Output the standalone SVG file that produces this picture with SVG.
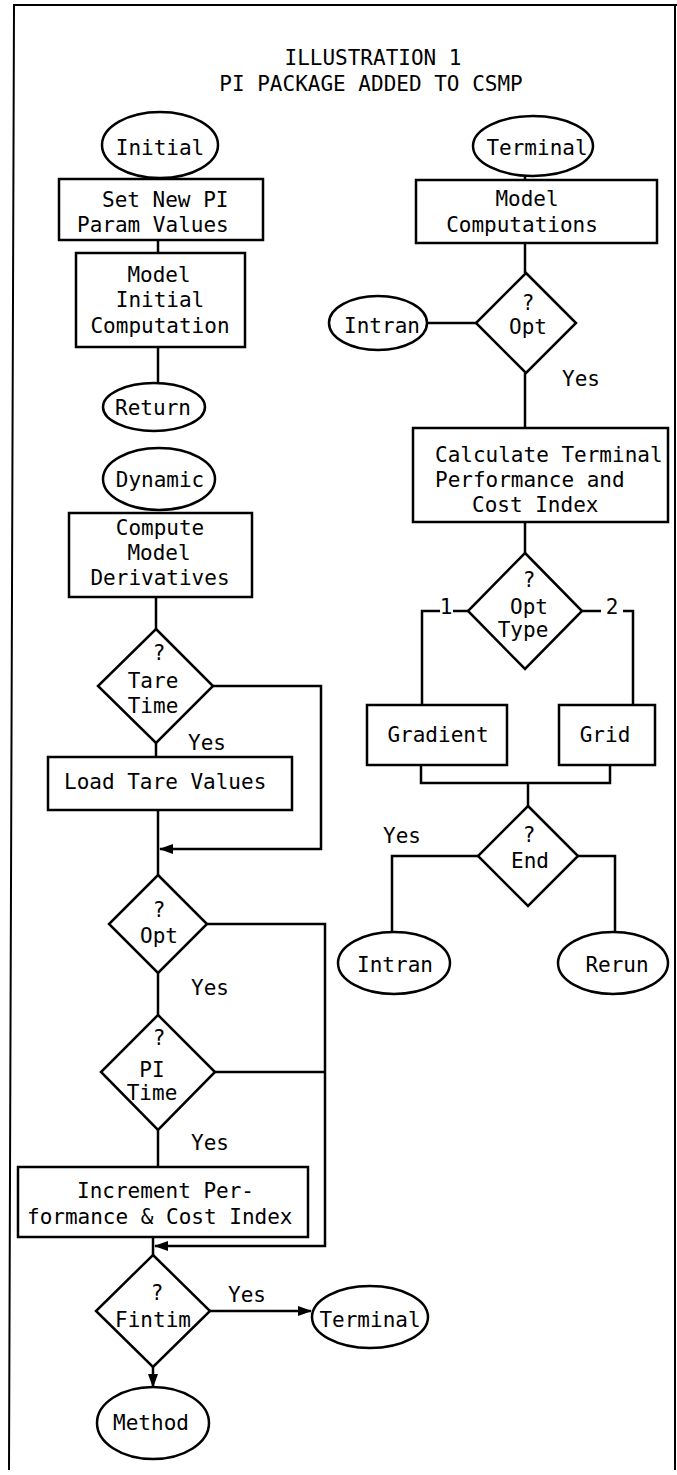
<svg xmlns="http://www.w3.org/2000/svg" width="677" height="1475" viewBox="0 0 677 1475">
<defs>
<style>
.s{fill:#fff;stroke:#000;stroke-width:2.5}
.c{fill:none;stroke:#000;stroke-width:2.5}
.f{fill:none;stroke:#000;stroke-width:2}
text{font-family:"DejaVu Sans Mono","Liberation Mono",monospace;font-size:21px;fill:#000}
.m{text-anchor:middle}
</style>
<marker id="arr" markerWidth="14" markerHeight="10" refX="13" refY="5" orient="auto" markerUnits="userSpaceOnUse"><path d="M0,0 L14,5 L0,10 z" fill="#000"/></marker>
</defs>
<rect width="677" height="1475" fill="#fff"/>
<g id="frame">
<path class="f" d="M9,1470 L14,5 L677,5"/>
<path class="f" d="M675,5 L675,1470" stroke-width="1.5"/>
</g>
<g id="title">
<text class="m" x="373" y="65">ILLUSTRATION 1</text>
<text class="m" x="371" y="91">PI PACKAGE ADDED TO CSMP</text>
</g>
<g id="connectors">
<path class="c" d="M158,177 L158,180"/>
<path class="c" d="M158,240 L158,253"/>
<path class="c" d="M158,347 L158,383"/>
<path class="c" d="M156,597 L156,629"/>
<path class="c" d="M156,743 L156,757"/>
<path class="c" d="M213,686 L321,686 L321,849 L160,849" marker-end="url(#arr)"/>
<path class="c" d="M158,810 L158,875"/>
<path class="c" d="M158,973 L158,1015"/>
<path class="c" d="M207,924 L325,924 L325,1246 L155,1246" marker-end="url(#arr)"/>
<path class="c" d="M215,1072 L325,1072"/>
<path class="c" d="M158,1130 L158,1167"/>
<path class="c" d="M153,1237 L153,1255"/>
<path class="c" d="M210,1311 L311,1311" marker-end="url(#arr)"/>
<path class="c" d="M153,1367 L153,1387" marker-end="url(#arr)"/>
<path class="c" d="M525,175 L525,180"/>
<path class="c" d="M525,243 L525,273"/>
<path class="c" d="M427,323 L476,323"/>
<path class="c" d="M525,373 L525,428"/>
<path class="c" d="M525,522 L525,553"/>
<path class="c" d="M468,611 L453,611 M440,611 L422,611 L422,705"/>
<path class="c" d="M582,611 L601,611 M623,611 L633,611 L633,705"/>
<path class="c" d="M421,765 L421,783 L610,783 L610,765"/>
<path class="c" d="M528,783 L528,806"/>
<path class="c" d="M478,856 L392,856 L392,932"/>
<path class="c" d="M578,856 L615,856 L615,932"/>
<text x="446" y="614" class="m">1</text>
<text x="612" y="614" class="m">2</text>
<text x="188" y="750">Yes</text>
<text x="191" y="995">Yes</text>
<text x="191" y="1150">Yes</text>
<text x="228" y="1302">Yes</text>
<text x="562" y="386">Yes</text>
<text x="383" y="843">Yes</text>
</g>
<g id="initial">
<ellipse class="s" cx="160" cy="145" rx="58" ry="33"/>
<text class="m" x="160" y="155">Initial</text>
</g>
<g id="set-new-pi">
<rect class="s" x="59" y="179" width="204" height="61"/>
<text x="102" y="207">Set New PI</text>
<text x="77" y="232">Param Values</text>
</g>
<g id="model-initial">
<rect class="s" x="76" y="253" width="169" height="94"/>
<text class="m" x="159" y="282">Model</text>
<text class="m" x="160" y="307">Initial</text>
<text class="m" x="160" y="333">Computation</text>
</g>
<g id="return">
<ellipse class="s" cx="154" cy="407" rx="51" ry="24"/>
<text class="m" x="153" y="415">Return</text>
</g>
<g id="dynamic">
<ellipse class="s" cx="159" cy="479" rx="56" ry="31"/>
<text class="m" x="160" y="487">Dynamic</text>
</g>
<g id="compute">
<rect class="s" x="69" y="513" width="183" height="84"/>
<text class="m" x="160" y="535">Compute</text>
<text class="m" x="159" y="560">Model</text>
<text class="m" x="160" y="585">Derivatives</text>
</g>
<g id="tare-time">
<path class="s" d="M156,629 L213,686 L156,743 L98,686 Z"/>
<text class="m" x="159" y="660">?</text>
<text class="m" x="153" y="688">Tare</text>
<text class="m" x="153" y="713">Time</text>
</g>
<g id="load-tare">
<rect class="s" x="48" y="757" width="244" height="53"/>
<text x="64" y="789">Load Tare Values</text>
</g>
<g id="opt-left">
<path class="s" d="M158,875 L207,924 L158,973 L109,924 Z"/>
<text class="m" x="159" y="917">?</text>
<text class="m" x="159" y="943">Opt</text>
</g>
<g id="pi-time">
<path class="s" d="M158,1015 L215,1072 L158,1130 L101,1072 Z"/>
<text class="m" x="159" y="1045">?</text>
<text class="m" x="152" y="1077">PI</text>
<text class="m" x="152" y="1100">Time</text>
</g>
<g id="increment">
<rect class="s" x="18" y="1167" width="290" height="70"/>
<text x="77" y="1198">Increment Per-</text>
<text x="27" y="1224">formance &amp; Cost Index</text>
</g>
<g id="fintim">
<path class="s" d="M153,1255 L210,1311 L153,1367 L96,1311 Z"/>
<text class="m" x="157" y="1300">?</text>
<text class="m" x="153" y="1327">Fintim</text>
</g>
<g id="terminal-bottom">
<ellipse class="s" cx="370" cy="1317" rx="58" ry="31"/>
<text class="m" x="370" y="1327">Terminal</text>
</g>
<g id="method">
<ellipse class="s" cx="153" cy="1423" rx="56" ry="36"/>
<text class="m" x="151" y="1430">Method</text>
</g>
<g id="terminal-top">
<ellipse class="s" cx="533" cy="146" rx="60" ry="30"/>
<text class="m" x="537" y="155">Terminal</text>
</g>
<g id="model-computations">
<rect class="s" x="416" y="180" width="241" height="63"/>
<text class="m" x="527" y="206">Model</text>
<text class="m" x="522" y="232">Computations</text>
</g>
<g id="opt-right">
<path class="s" d="M526,273 L576,323 L526,373 L476,323 Z"/>
<text class="m" x="528" y="310">?</text>
<text class="m" x="528" y="334">Opt</text>
</g>
<g id="intran-top">
<ellipse class="s" cx="378" cy="323" rx="49" ry="27"/>
<text class="m" x="382" y="333">Intran</text>
</g>
<g id="calculate">
<rect class="s" x="413" y="428" width="255" height="94"/>
<text x="435" y="462">Calculate Terminal</text>
<text x="435" y="487">Performance and</text>
<text x="472" y="512">Cost Index</text>
</g>
<g id="opt-type">
<path class="s" d="M525,553 L582,611 L525,669 L468,611 Z"/>
<text class="m" x="529" y="587">?</text>
<text class="m" x="529" y="614">Opt</text>
<text class="m" x="523" y="637">Type</text>
</g>
<g id="gradient">
<rect class="s" x="367" y="705" width="140" height="60"/>
<text class="m" x="438" y="742">Gradient</text>
</g>
<g id="grid">
<rect class="s" x="559" y="705" width="96" height="60"/>
<text class="m" x="605" y="742">Grid</text>
</g>
<g id="end">
<path class="s" d="M528,806 L578,856 L528,906 L478,856 Z"/>
<text class="m" x="529" y="842">?</text>
<text class="m" x="530" y="868">End</text>
</g>
<g id="intran-bottom">
<ellipse class="s" cx="394" cy="963" rx="56" ry="31"/>
<text class="m" x="395" y="972">Intran</text>
</g>
<g id="rerun">
<ellipse class="s" cx="613" cy="963" rx="55" ry="31"/>
<text class="m" x="617" y="972">Rerun</text>
</g>
</svg>
